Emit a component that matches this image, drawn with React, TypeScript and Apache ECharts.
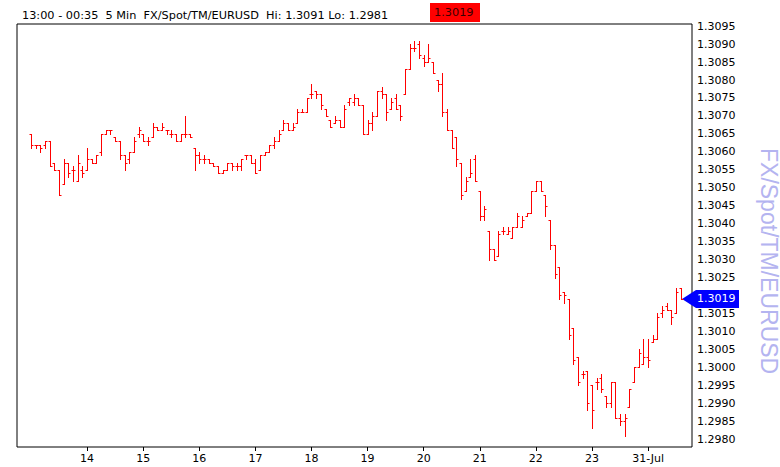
import React, { useEffect, useRef } from "react";
import * as echarts from "echarts";

// 5-minute OHLC bars, 13:00 -> 00:35 (bar index 0..139)
const opens = [
  1.3065, 1.3062, 1.3062, 1.3062, 1.3063, 1.3057, 1.3055, 1.3051, 1.3057, 1.3055, 1.3052, 1.3055,
  1.3055, 1.3058, 1.3057, 1.3060, 1.3065, 1.3066, 1.3064, 1.3063, 1.3059, 1.3058, 1.3060, 1.3065,
  1.3065, 1.3063, 1.3064, 1.3067, 1.3066, 1.3066, 1.3065, 1.3065, 1.3063, 1.3065, 1.3065, 1.3061,
  1.3059, 1.3058, 1.3058, 1.3057, 1.3056, 1.3054, 1.3055, 1.3057, 1.3056, 1.3056, 1.3059, 1.3059,
  1.3057, 1.3055, 1.3059, 1.3060, 1.3062, 1.3063, 1.3066, 1.3068, 1.3066, 1.3068, 1.3071, 1.3071,
  1.3076, 1.3077, 1.3076, 1.3072, 1.3069, 1.3068, 1.3069, 1.3067, 1.3074, 1.3074, 1.3075, 1.3073,
  1.3065, 1.3068, 1.3070, 1.3077, 1.3076, 1.3072, 1.3075, 1.3073, 1.3076, 1.3083, 1.3089, 1.3090,
  1.3086, 1.3085, 1.3085, 1.3080, 1.3079, 1.3071, 1.3066, 1.3064, 1.3057, 1.3049, 1.3053, 1.3058,
  1.3049, 1.3042, 1.3038, 1.3033, 1.3031, 1.3038, 1.3037, 1.3036, 1.3039, 1.3039, 1.3042, 1.3043,
  1.3049, 1.3052, 1.3048, 1.3041, 1.3034, 1.3028, 1.3021, 1.3019, 1.3011, 1.3003, 1.2998, 1.2999,
  1.2995, 1.2996, 1.2997, 1.2992, 1.2990, 1.2996, 1.2986, 1.2985, 1.2989, 1.2996, 1.3000, 1.3001,
  1.3003, 1.3007, 1.3008, 1.3015, 1.3017, 1.3016, 1.3015, 1.3022,
];
const highs = [
  1.3065, 1.3062, 1.3062, 1.3063, 1.3063, 1.3057, 1.3055, 1.3058, 1.3057, 1.3056, 1.3059, 1.3056,
  1.3061, 1.3058, 1.3059, 1.3065, 1.3066, 1.3066, 1.3064, 1.3063, 1.3059, 1.3060, 1.3064, 1.3067,
  1.3065, 1.3064, 1.3068, 1.3067, 1.3068, 1.3066, 1.3066, 1.3065, 1.3065, 1.3070, 1.3065, 1.3061,
  1.3060, 1.3059, 1.3058, 1.3057, 1.3056, 1.3055, 1.3057, 1.3057, 1.3057, 1.3058, 1.3059, 1.3059,
  1.3058, 1.3059, 1.3060, 1.3062, 1.3064, 1.3066, 1.3069, 1.3068, 1.3068, 1.3072, 1.3072, 1.3075,
  1.3079, 1.3077, 1.3076, 1.3072, 1.3069, 1.3070, 1.3069, 1.3073, 1.3075, 1.3076, 1.3075, 1.3073,
  1.3069, 1.3071, 1.3077, 1.3078, 1.3076, 1.3075, 1.3076, 1.3073, 1.3083, 1.3090, 1.3091, 1.3091,
  1.3087, 1.3090, 1.3085, 1.3080, 1.3082, 1.3072, 1.3066, 1.3064, 1.3057, 1.3053, 1.3058, 1.3059,
  1.3049, 1.3045, 1.3038, 1.3033, 1.3038, 1.3039, 1.3039, 1.3039, 1.3043, 1.3042, 1.3043, 1.3049,
  1.3052, 1.3052, 1.3048, 1.3041, 1.3034, 1.3028, 1.3021, 1.3019, 1.3011, 1.3003, 1.2999, 1.2999,
  1.2995, 1.2997, 1.2998, 1.2992, 1.2996, 1.2996, 1.2987, 1.2987, 1.2994, 1.3000, 1.3005, 1.3008,
  1.3008, 1.3009, 1.3015, 1.3017, 1.3018, 1.3016, 1.3022, 1.3022,
];
const lows = [
  1.3061, 1.3061, 1.3060, 1.3061, 1.3056, 1.3055, 1.3048, 1.3051, 1.3053, 1.3052, 1.3052, 1.3053,
  1.3055, 1.3057, 1.3057, 1.3059, 1.3065, 1.3065, 1.3063, 1.3058, 1.3055, 1.3057, 1.3060, 1.3064,
  1.3063, 1.3062, 1.3064, 1.3066, 1.3066, 1.3065, 1.3064, 1.3063, 1.3063, 1.3064, 1.3064, 1.3055,
  1.3057, 1.3057, 1.3057, 1.3056, 1.3054, 1.3054, 1.3055, 1.3055, 1.3055, 1.3055, 1.3058, 1.3057,
  1.3054, 1.3055, 1.3059, 1.3060, 1.3061, 1.3063, 1.3066, 1.3066, 1.3066, 1.3068, 1.3071, 1.3071,
  1.3075, 1.3075, 1.3072, 1.3070, 1.3067, 1.3068, 1.3067, 1.3067, 1.3073, 1.3073, 1.3073, 1.3065,
  1.3065, 1.3066, 1.3070, 1.3075, 1.3069, 1.3072, 1.3072, 1.3069, 1.3076, 1.3083, 1.3088, 1.3086,
  1.3084, 1.3085, 1.3082, 1.3077, 1.3070, 1.3066, 1.3061, 1.3056, 1.3047, 1.3049, 1.3053, 1.3052,
  1.3041, 1.3041, 1.3030, 1.3030, 1.3031, 1.3037, 1.3037, 1.3036, 1.3039, 1.3039, 1.3042, 1.3043,
  1.3049, 1.3049, 1.3042, 1.3033, 1.3025, 1.3019, 1.3018, 1.3008, 1.3001, 1.2995, 1.2997, 1.2988,
  1.2983, 1.2994, 1.2993, 1.2989, 1.2989, 1.2986, 1.2984, 1.2981, 1.2989, 1.2996, 1.3000, 1.3001,
  1.3000, 1.3007, 1.3008, 1.3014, 1.3016, 1.3012, 1.3015, 1.3019,
];
const closes = [
  1.3062, 1.3062, 1.3061, 1.3063, 1.3056, 1.3055, 1.3048, 1.3057, 1.3054, 1.3055, 1.3057, 1.3054,
  1.3058, 1.3057, 1.3059, 1.3065, 1.3066, 1.3066, 1.3063, 1.3059, 1.3057, 1.3060, 1.3063, 1.3066,
  1.3063, 1.3063, 1.3067, 1.3066, 1.3067, 1.3066, 1.3065, 1.3063, 1.3065, 1.3065, 1.3064, 1.3059,
  1.3058, 1.3058, 1.3057, 1.3056, 1.3054, 1.3055, 1.3057, 1.3056, 1.3056, 1.3058, 1.3059, 1.3057,
  1.3054, 1.3059, 1.3060, 1.3062, 1.3063, 1.3065, 1.3068, 1.3066, 1.3067, 1.3071, 1.3071, 1.3075,
  1.3076, 1.3076, 1.3073, 1.3070, 1.3067, 1.3069, 1.3067, 1.3072, 1.3075, 1.3075, 1.3073, 1.3065,
  1.3068, 1.3070, 1.3077, 1.3076, 1.3071, 1.3074, 1.3072, 1.3070, 1.3083, 1.3089, 1.3089, 1.3087,
  1.3085, 1.3086, 1.3082, 1.3079, 1.3071, 1.3066, 1.3061, 1.3058, 1.3048, 1.3052, 1.3054, 1.3052,
  1.3042, 1.3044, 1.3033, 1.3030, 1.3037, 1.3038, 1.3038, 1.3039, 1.3042, 1.3041, 1.3043, 1.3049,
  1.3052, 1.3049, 1.3045, 1.3034, 1.3026, 1.3020, 1.3020, 1.3009, 1.3002, 1.2996, 1.2998, 1.2990,
  1.2988, 1.2996, 1.2994, 1.2990, 1.2996, 1.2986, 1.2985, 1.2986, 1.2994, 1.3000, 1.3004, 1.3003,
  1.3002, 1.3008, 1.3014, 1.3016, 1.3016, 1.3014, 1.3021, 1.3019,
];

// axis ticks
const yTickValues = [
  1.298, 1.2985, 1.299, 1.2995, 1.3, 1.3005, 1.301, 1.3015, 1.3025, 1.303, 1.3035, 1.304,
  1.3045, 1.305, 1.3055, 1.306, 1.3065, 1.307, 1.3075, 1.308, 1.3085, 1.309, 1.3095,
];
const xTickBars = [12, 24, 36, 48, 60, 72, 84, 96, 108, 120, 132];
const xTickLabels = ["14", "15", "16", "17", "18", "19", "20", "21", "22", "23", "31-Jul"];

const titleText = "13:00 - 00:35  5 Min  FX/Spot/TM/EURUSD  Hi: 1.3091 Lo: 1.2981";
const lastPriceText = "1.3019";
const lastPrice = 1.3019;
const sideTitle = "FX/Spot/TM/EURUSD";

const FONT = "DejaVu Sans";

export default function App() {
  const ref = useRef<HTMLDivElement>(null);

  useEffect(() => {
    if (!ref.current) return;
    const chart = echarts.init(ref.current, null, { renderer: "svg" });
    const data = opens.map((o, i) => [i, o, highs[i], lows[i], closes[i]]);

    chart.setOption({
      animation: false,
      backgroundColor: "#ffffff",
      grid: {
        left: 17,
        right: 88,
        top: 24,
        bottom: 20,
        show: true,
        borderColor: "#000000",
        borderWidth: 1,
        backgroundColor: "#ffffff",
      },
      xAxis: {
        type: "value",
        min: -3,
        max: 141.4,
        axisLine: { show: false },
        splitLine: { show: false },
        axisTick: {
          show: true,
          customValues: xTickBars,
          length: 4,
          lineStyle: { color: "#000000" },
        },
        axisLabel: {
          customValues: xTickBars,
          formatter: (v: number) => xTickLabels[xTickBars.indexOf(Math.round(v))] ?? "",
          color: "#000000",
          fontFamily: FONT,
          fontSize: 11,
          margin: 6,
        },
      },
      yAxis: {
        type: "value",
        position: "right",
        min: 1.29778,
        max: 1.30956,
        axisLine: { show: false },
        splitLine: { show: false },
        axisTick: { show: false },
        axisLabel: {
          customValues: yTickValues,
          formatter: (v: number) => v.toFixed(4),
          color: "#000000",
          fontFamily: FONT,
          fontSize: 11,
          margin: 5,
        },
      },
      series: [
        {
          type: "custom",
          silent: true,
          encode: { x: 0, y: [1, 2, 3, 4] },
          data,
          renderItem: (params: any, api: any) => {
            const i = api.value(0);
            const o = api.coord([i, api.value(1)]);
            const h = api.coord([i, api.value(2)]);
            const l = api.coord([i, api.value(3)]);
            const c = api.coord([i, api.value(4)]);
            const x = Math.round(h[0]) + 0.5;
            const style = { stroke: "#ff0000", lineWidth: 1, fill: null };
            const oy = Math.round(o[1]) + 0.5;
            const cy = Math.round(c[1]) + 0.5;
            return {
              type: "group",
              children: [
                { type: "line", shape: { x1: x, y1: Math.round(h[1]), x2: x, y2: Math.round(l[1]) + 1 }, style },
                { type: "line", shape: { x1: x - 2, y1: oy, x2: x, y2: oy }, style },
                { type: "line", shape: { x1: x, y1: cy, x2: x + 2, y2: cy }, style },
              ],
            };
          },
        },
      ],
    });

    const py = Math.round(chart.convertToPixel({ yAxisIndex: 0 }, lastPrice) as number);

    chart.setOption({
      graphic: [
        {
          id: "title",
          type: "text",
          left: 22,
          top: 10,
          style: { text: titleText, fill: "#000000", font: `11.3px '${FONT}'` },
        },
        {
          id: "redbox",
          type: "rect",
          shape: { x: 430, y: 3, width: 50, height: 19 },
          style: { fill: "#ff0000" },
        },
        {
          id: "redtext",
          type: "text",
          x: 434,
          y: 7,
          style: { text: lastPriceText, fill: "#3a0000", font: `11.3px '${FONT}'` },
        },
        {
          id: "side",
          type: "text",
          x: 780,
          y: 148,
          rotation: -Math.PI / 2,
          style: { text: sideTitle, fill: "#b4b4f0", font: `23px 'Liberation Sans'` },
        },
        {
          id: "arrow",
          type: "polygon",
          shape: { points: [[682, py], [696, py - 9], [696, py + 9]] },
          style: { fill: "#0000ff" },
        },
        {
          id: "pbox",
          type: "rect",
          shape: { x: 696, y: py - 9, width: 43, height: 18 },
          style: { fill: "#0000ff" },
        },
        {
          id: "ptext",
          type: "text",
          x: 697,
          y: py - 6,
          style: { text: lastPriceText, fill: "#ffffff", font: `11px '${FONT}'` },
        },
      ],
    });

    return () => chart.dispose();
  }, []);

  return (
    <div
      ref={ref}
      style={{ position: "fixed", left: 0, top: 0, width: 780, height: 467 }}
    />
  );
}
